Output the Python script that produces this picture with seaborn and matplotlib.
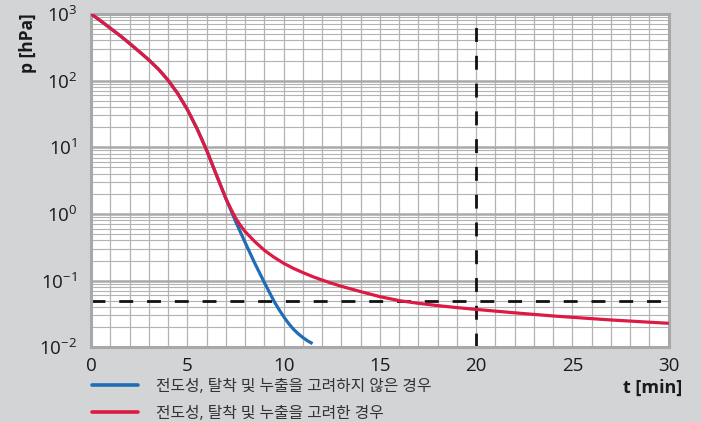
import numpy as np
import pandas as pd
import matplotlib
matplotlib.use("Agg")
import matplotlib.pyplot as plt
from matplotlib.ticker import FixedLocator, NullFormatter, MultipleLocator
import seaborn as sns

# Pump-down curves: pressure p [hPa] over time t [min]
t_with = [0, 0.5, 1, 1.5, 2, 2.5, 3, 3.5, 4, 4.5, 5, 5.5, 6, 6.5, 7, 7.25,
          7.5, 7.75, 8, 8.5, 9, 9.5, 10, 10.5, 11, 11.5, 12, 12.5, 13, 14,
          15, 16, 17, 18, 19, 20, 22, 24, 27, 30]
p_with = [1000, 785, 610, 473, 360, 272, 204, 148, 101, 63.8, 36.7, 19.05,
          9.02, 3.89, 1.70, 1.20, 0.87, 0.676, 0.543, 0.385, 0.285, 0.224,
          0.182, 0.153, 0.132, 0.115, 0.102, 0.0912, 0.0822, 0.0684, 0.0575,
          0.0501, 0.0457, 0.0422, 0.0394, 0.0370, 0.0329, 0.0295, 0.0257,
          0.0229]

t_without = [0, 0.5, 1, 1.5, 2, 2.5, 3, 3.5, 4, 4.5, 5, 5.5, 6, 6.5, 7,
             7.5, 8, 8.5, 9, 9.5, 9.75, 10, 10.25, 10.5, 10.75, 11, 11.25,
             11.5]
p_without = [1000, 785, 610, 473, 360, 272, 204, 148, 101, 63.8, 36.7, 19.05,
             9.02, 3.89, 1.70, 0.776, 0.372, 0.182, 0.0933, 0.049, 0.0372,
             0.0288, 0.0229, 0.0188, 0.0160, 0.0140, 0.01245, 0.01135]

label_without = "전도성, 탈착 및 누출을 고려하지 않은 경우"
label_with = "전도성, 탈착 및 누출을 고려한 경우"

x_ticks = [0, 5, 10, 15, 20, 25, 30]
y_ticks = [1e-2, 1e-1, 1e0, 1e1, 1e2, 1e3]
y_tick_labels = [r"$\mathregular{10^{-2}}$", r"$\mathregular{10^{-1}}$",
                 r"$\mathregular{10^{0}}$", r"$\mathregular{10^{1}}$",
                 r"$\mathregular{10^{2}}$", r"$\mathregular{10^{3}}$"]

target_time = 20
target_pressure = 0.05

blue = "#1f6db5"
red = "#dc1a44"
bg = "#d3d4d6"
grid_c = "#b3b3b3"

sns.set_theme(style="white")
plt.rcParams["font.family"] = ["Open Sans", "Noto Sans CJK KR", "DejaVu Sans"]
plt.rcParams["mathtext.fontset"] = "custom"
plt.rcParams["mathtext.rm"] = "Open Sans"
plt.rcParams["mathtext.it"] = "Open Sans"
plt.rcParams["mathtext.bf"] = "Open Sans:bold"

df = pd.concat([
    pd.DataFrame({"t": t_without, "p": p_without, "case": label_without}),
    pd.DataFrame({"t": t_with, "p": p_with, "case": label_with}),
])

fig = plt.figure(figsize=(7.01, 4.22), dpi=100, facecolor=bg)
ax = fig.add_axes([0.130, 0.177, 0.824, 0.790])
ax.set_facecolor("white")

sns.lineplot(data=df, x="t", y="p", hue="case",
             hue_order=[label_without, label_with],
             palette={label_without: blue, label_with: red},
             linewidth=2.3, sort=False, estimator=None, ax=ax, zorder=3)
for ln in ax.get_lines():
    ln.set_solid_joinstyle("round")
    ln.set_solid_capstyle("butt")

ax.set_yscale("log")
ax.set_xlim(0, 30)
ax.set_ylim(1e-2, 1e3)

ax.set_axisbelow(True)
ax.axhline(target_pressure, color="#111111", lw=2.0, ls=(0, (5, 5)), zorder=2)
ax.axvline(target_time, color="#111111", lw=2.0, ls=(0, (5, 5)), zorder=2)

ax.xaxis.set_major_locator(FixedLocator(x_ticks))
ax.xaxis.set_minor_locator(MultipleLocator(1))
ax.yaxis.set_major_locator(FixedLocator(y_ticks))
ax.yaxis.set_minor_locator(FixedLocator(
    [m * 10.0 ** e for e in range(-2, 3) for m in range(2, 10)]))
ax.yaxis.set_minor_formatter(NullFormatter())
ax.set_xticklabels([str(v) for v in x_ticks])
ax.set_yticklabels(y_tick_labels)

ax.grid(which="major", axis="x", color=grid_c, lw=0.9)
ax.grid(which="minor", axis="x", color=grid_c, lw=0.9)
ax.grid(which="major", axis="y", color="#a9a9a9", lw=1.8)
ax.grid(which="minor", axis="y", color=grid_c, lw=0.8)

ax.tick_params(which="both", length=0)
ax.tick_params(axis="x", pad=7, labelsize=13.5, labelcolor="#1a1a1a")
ax.tick_params(axis="y", pad=10, labelsize=13.5, labelcolor="#1a1a1a")

for s in ax.spines.values():
    s.set_visible(True)
    s.set_color("#a8a8a8")
    s.set_linewidth(2.2)

ax.set_xlabel("")
ax.set_ylabel("")
fig.text(28 / 701, 1 - 43 / 422, "p [hPa]", rotation=90, ha="center",
         va="center", fontsize=12.5, fontweight="bold", color="#1a1a1a")
fig.text(682 / 701, 1 - 388 / 422, "t [min]", ha="right", va="center",
         fontsize=13, fontweight="bold", color="#1a1a1a")

sns.move_legend(ax, "upper left", bbox_to_anchor=(92 / 701, 1 - 379 / 422),
                bbox_transform=fig.transFigure, frameon=False, title=None,
                fontsize=11.4, handlelength=2.9, handletextpad=1.15,
                labelspacing=0.68, borderaxespad=0, borderpad=0)
leg = ax.get_legend()
for txt in leg.get_texts():
    txt.set_color("#333333")
for ln in leg.get_lines():
    ln.set_linewidth(2.6)

fig.savefig("out.png", dpi=100, facecolor=bg)
